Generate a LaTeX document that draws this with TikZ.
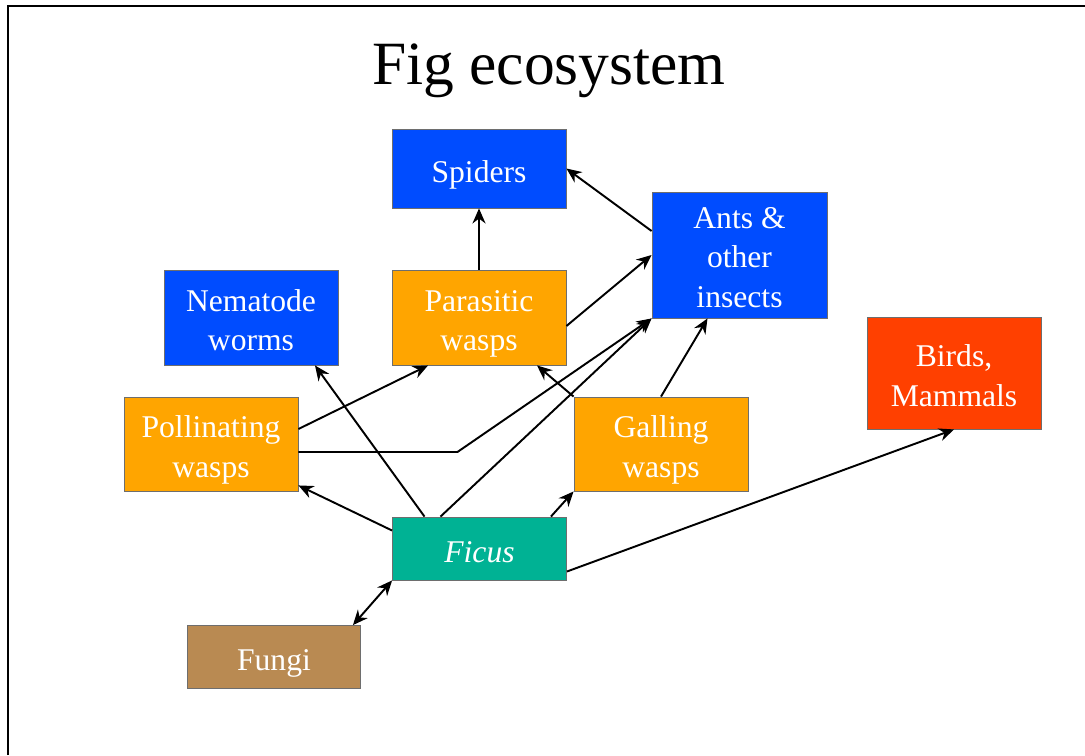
\documentclass[tikz,border=0pt]{standalone}
\usepackage{fontspec}
\setmainfont{Liberation Serif}
\usepackage{xcolor}
\usepackage{tikz}
\usetikzlibrary{arrows.meta, positioning, calc}
\definecolor{figBlue}{RGB}{0,76,255}
\definecolor{figOrange}{RGB}{255,165,0}
\definecolor{figTeal}{RGB}{0,178,148}
\definecolor{figRed}{RGB}{255,64,0}
\definecolor{figBrown}{RGB}{185,138,82}
\definecolor{figEdge}{RGB}{110,110,110}

\begin{document}
\begin{tikzpicture}[x=0.02cm,y=-0.02cm,
  box/.style={draw=figEdge,line width=0.5pt,text=white,align=center,
              minimum width=3.48cm,inner xsep=1mm,inner ysep=0pt,text depth=4pt,
              font=\fontsize{18}{22.5}\selectfont},
  oneLine/.style={text height=19.5pt},
  twoLines/.style={text height=42pt},
  threeLines/.style={text height=63.5pt},
  blueBox/.style={box,fill=figBlue},
  orangeBox/.style={box,fill=figOrange},
  arr/.style={-{Stealth[length=3mm,width=2.6mm]},line width=1.1pt},
  arrBoth/.style={{Stealth[length=3mm,width=2.6mm]}-{Stealth[length=3mm,width=2.6mm]},line width=1.1pt}]

\useasboundingbox (0,0) rectangle (1085,755);
% frame of the slide (clipped at right and bottom)
\draw[line width=1.1pt] (8,755) -- (8,6) -- (1085,6);

% ===== title =====
\node[anchor=base,font=\fontsize{35}{42}\selectfont] (title) at (549,84) {Fig ecosystem};

% ===== top row =====
\node[blueBox,oneLine,minimum height=1.58cm] (spiders) at (479,168.5) {Spiders};
\node[blueBox,threeLines,minimum height=2.52cm,minimum width=3.5cm] (ants) at (739.5,255) {Ants \&\\other\\insects};

% ===== middle rows =====
\node[blueBox,twoLines,minimum height=1.9cm] (nematode) at (251,317.5) {Nematode\\worms};
\node[orangeBox,twoLines,minimum height=1.9cm] (parasitic) at (479,317.5) {Parasitic\\wasps};
\node[box,twoLines,fill=figRed,minimum height=2.24cm] (birds) at (954,373) {Birds,\\Mammals};
\node[orangeBox,twoLines,minimum height=1.88cm] (pollinating) at (211,444) {Pollinating\\wasps};
\node[orangeBox,twoLines,minimum height=1.88cm] (galling) at (661,444) {Galling\\wasps};

% ===== bottom =====
\node[box,oneLine,fill=figTeal,minimum height=1.26cm] (ficus) at (479.5,548.5) {\itshape Ficus};
\node[box,oneLine,fill=figBrown,minimum height=1.26cm,minimum width=3.46cm] (fungi) at (274,657) {Fungi};

% Arrows into Spiders
\draw[arr] (parasitic.north) -- (spiders.south);
\draw[arr] ($(ants.west)+(0,-24)$) -- (spiders.east);

% Arrows into Ants
\draw[arr] ($(parasitic.east)+(0,8.5)$) -- (ants.west);
\draw[arr] ($(pollinating.east)+(0,8)$) -- ($(pollinating.east)+(159,8)$) -- (ants.south west);
\draw[arr] ($(ficus.north)+(-39,0)$) -- (ants.south west);
\draw[arr] (galling.north) -- ($(ants.south)+(-32,0)$);

% Arrows into the wasps and worms
\draw[arr] ($(pollinating.east)+(0,-15)$) -- ($(parasitic.south)+(-51,0)$);
\draw[arr] (galling.north west) -- ($(parasitic.south)+(58,0)$);
\draw[arr] ($(ficus.north)+(-55,0)$) -- ($(nematode.south)+(64,0)$);
\draw[arr] ($(ficus.west)+(0,-18)$) -- ($(pollinating.south east)+(0,-6)$);
\draw[arr] ($(ficus.north east)+(-16,0)$) -- (galling.south west);

% Ficus to birds, fungi both ways
\draw[arr] ($(ficus.east)+(0,23)$) -- (birds.south);
\draw[arrBoth] ($(fungi.north east)+(-8,0)$) -- (ficus.south west);
\end{tikzpicture}
\end{document}
